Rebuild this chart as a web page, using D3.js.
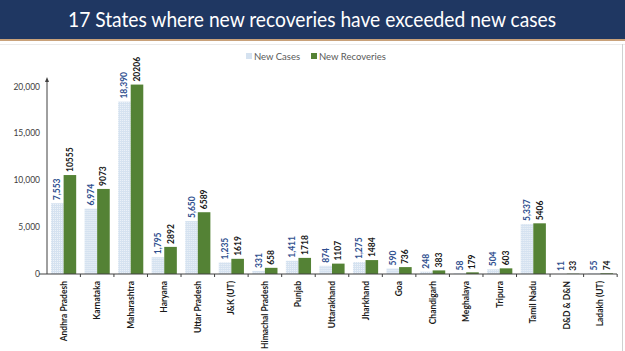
<!DOCTYPE html>
<html>
<head>
<meta charset="utf-8">
<script src="https://cdn.jsdelivr.net/npm/d3@7"></script>
<style>
  body { margin: 0; background: white; }
</style>
</head>
<body>
<div id="chart"></div>
<script>
const states = ["Andhra Pradesh", "Karnataka", "Maharashtra", "Haryana", "Uttar Pradesh", "J&K (UT)",
  "Himachal Pradesh", "Punjab", "Uttarakhand", "Jharkhand", "Goa", "Chandigarh", "Meghalaya",
  "Tripura", "Tamil Nadu", "D&D & D&N", "Ladakh (UT)"];
const newCases = [7553, 6974, 18390, 1795, 5650, 1235, 331, 1411, 874, 1275, 590, 248, 58, 504, 5337, 11, 55];
const newRecoveries = [10555, 9073, 20206, 2892, 6589, 1619, 658, 1718, 1107, 1484, 736, 383, 179, 603, 5406, 33, 74];
const yTicks = [0, 5000, 10000, 15000, 20000];
const seriesNames = ["New Cases", "New Recoveries"];

const width = 625;
const height = 351;
const margin = {t: 78, b: 77, l: 47, r: 8};

const svg = d3.select("#chart")
    .append("svg")
    .attr("width", width)
    .attr("height", height)
    .style("font-family", "Lato, sans-serif");

// pattern for the dotted light blue bars
const defs = svg.append("defs");
const pat = defs.append("pattern")
    .attr("id", "dots")
    .attr("width", 2)
    .attr("height", 2)
    .attr("patternUnits", "userSpaceOnUse");
pat.append("rect").attr("width", 2).attr("height", 2).attr("fill", "#d5e2f0");
pat.append("rect").attr("width", 1).attr("height", 1).attr("fill", "#eef3f9");

// title band
svg.append("rect").attr("x", 0).attr("y", 0).attr("width", width).attr("height", 39).attr("fill", "#1f3762");
svg.append("rect").attr("x", 0).attr("y", 39).attr("width", width).attr("height", 2).attr("fill", "#c9a27a");
svg.append("line").attr("x1", 0).attr("x2", width).attr("y1", 44.5).attr("y2", 44.5).attr("stroke", "#ececec");
svg.append("text")
    .attr("x", 312)
    .attr("y", 27)
    .attr("text-anchor", "middle")
    .attr("fill", "white")
    .attr("font-size", "21px")
    .attr("textLength", 488)
    .attr("lengthAdjust", "spacingAndGlyphs")
    .text("17 States where new recoveries have exceeded new cases");

// right frame line
svg.append("line").attr("x1", 622.5).attr("x2", 622.5).attr("y1", 44).attr("y2", height)
    .attr("stroke", "#d0d0d0");

const x0 = d3.scaleBand()
    .domain(states)
    .range([margin.l, width - margin.r])
    .paddingInner(0.25)
    .paddingOuter(0.12);
const x1 = d3.scaleBand()
    .domain(seriesNames)
    .range([0, x0.bandwidth()]);
const y = d3.scaleLinear()
    .domain([0, 20000])
    .range([height - margin.b, 86.5]);

const data = states.map((s, i) => ({state: s, values: [newCases[i], newRecoveries[i]]}));

// y axis labels
svg.append("g").selectAll("text")
    .data(yTicks)
    .enter()
    .append("text")
    .attr("x", 40)
    .attr("y", d => y(d) + 3)
    .attr("text-anchor", "end")
    .attr("font-size", "8.5px")
    .attr("fill", "#404040")
    .text(d => d3.format(",")(d));

// bars
const groups = svg.append("g").selectAll("g")
    .data(data)
    .enter()
    .append("g")
    .attr("transform", d => `translate(${x0(d.state)},0)`);

groups.selectAll("rect")
    .data(d => d.values.map((v, k) => ({key: seriesNames[k], v: v, k: k})))
    .enter()
    .append("rect")
    .attr("x", d => x1(d.key))
    .attr("y", d => y(d.v))
    .attr("width", x1.bandwidth())
    .attr("height", d => y(0) - y(d.v))
    .attr("fill", d => d.k === 0 ? "url(#dots)" : "#548235");

// value labels
groups.selectAll("text")
    .data(d => d.values.map((v, k) => ({key: seriesNames[k], v: v, k: k})))
    .enter()
    .append("text")
    .attr("transform", d => `translate(${x1(d.key) + x1.bandwidth() / 2 + 3},${y(d.v) - 3}) rotate(-90)`)
    .attr("font-size", "8.5px")
    .attr("font-weight", "bold")
    .attr("fill", d => d.k === 0 ? "#2f4f8f" : "#1a1a1a")
    .text(d => d.k === 0 ? d3.format(",")(d.v) : d.v);

// axes lines
svg.append("line")
    .attr("x1", margin.l).attr("x2", margin.l)
    .attr("y1", y(0)).attr("y2", 80)
    .attr("stroke", "#404040").attr("stroke-width", 1);
svg.append("path")
    .attr("d", `M${margin.l - 2},${82} L${margin.l},${77} L${margin.l + 2},${82} Z`)
    .attr("fill", "#404040");
svg.append("line")
    .attr("x1", margin.l - 8).attr("x2", width - margin.r)
    .attr("y1", y(0)).attr("y2", y(0))
    .attr("stroke", "#404040").attr("stroke-width", 1);

// x tick marks between categories
const step = x0.step();
svg.append("g").selectAll("line")
    .data(states)
    .enter()
    .append("line")
    .attr("x1", d => x0(d) + x0.bandwidth() + step * x0.paddingInner() / 2)
    .attr("x2", d => x0(d) + x0.bandwidth() + step * x0.paddingInner() / 2)
    .attr("y1", y(0)).attr("y2", y(0) + 3)
    .attr("stroke", "#404040");

// x labels
svg.append("g").selectAll("text")
    .data(states)
    .enter()
    .append("text")
    .attr("transform", d => `translate(${x0(d) + x0.bandwidth() / 2 + 3},${y(0) + 7}) rotate(-90)`)
    .attr("text-anchor", "end")
    .attr("font-size", "8.5px")
    .attr("font-weight", "bold")
    .attr("fill", "#1a1a1a")
    .text(d => d);

// legend
const legend = svg.append("g").attr("transform", "translate(246,53)");
seriesNames.forEach((name, i) => {
    const lx = i === 0 ? 0 : 65;
    legend.append("rect").attr("x", lx).attr("y", 0).attr("width", 6).attr("height", 6)
        .attr("fill", i === 0 ? "#d5e2f0" : "#548235");
    legend.append("text").attr("x", lx + 8).attr("y", 6.5)
        .attr("font-size", "9.5px").attr("fill", "#595959").text(name);
});
</script>
</body>
</html>
